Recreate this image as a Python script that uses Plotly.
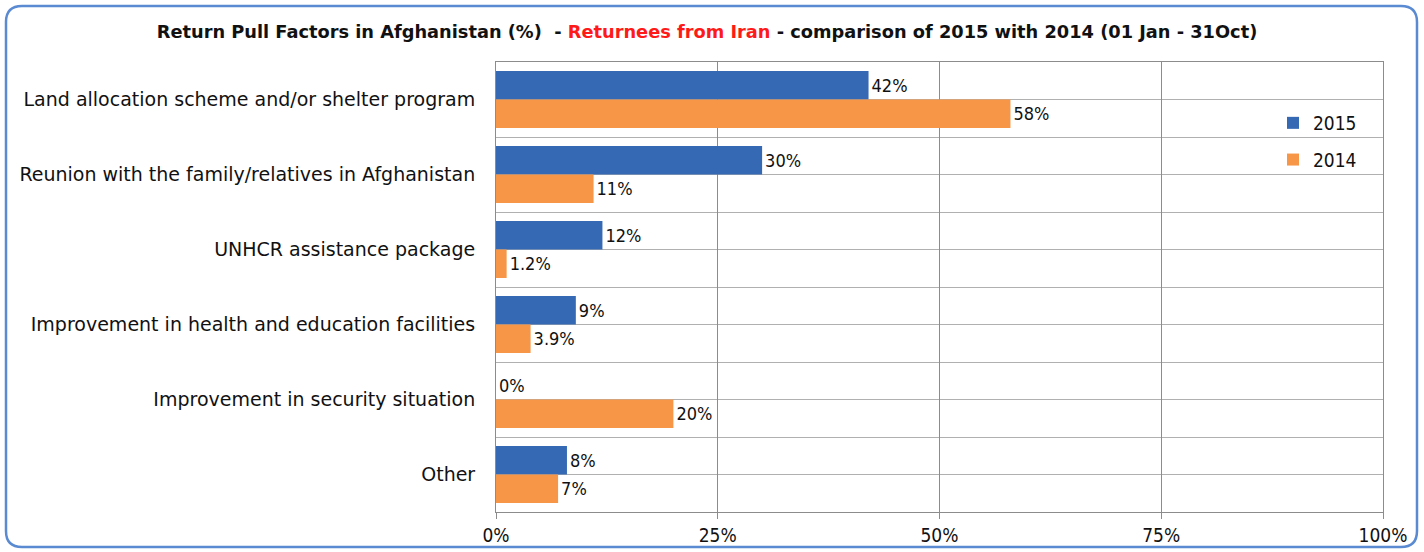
import plotly.graph_objects as go

categories = [
    "Land allocation scheme and/or shelter program",
    "Reunion with the family/relatives in Afghanistan",
    "UNHCR assistance package",
    "Improvement in health and education facilities",
    "Improvement in security situation",
    "Other",
]
values_2015 = [42, 30, 12, 9, 0, 8]
values_2014 = [58, 11, 1.2, 3.9, 20, 7]
x_ticks = [0, 25, 50, 75, 100]
x_ticklabels = ["0%", "25%", "50%", "75%", "100%"]

W, H = 1424, 552
ML, MR, MT, MB = 496, 41, 62, 40
PW, PH = W - ML - MR, H - MT - MB

FONT = "DejaVu Sans"
CFONT = "DejaVu Sans Condensed"
ypos = list(range(len(categories)))

fig = go.Figure()
fig.add_trace(go.Bar(
    y=ypos, x=values_2015, orientation="h", name="2015", legendgroup="a",
    marker=dict(color="#3569B3", line=dict(width=0)),
    text=[f"{v:g}%" for v in values_2015], textposition="outside",
    textfont=dict(family=CFONT, size=18, color="#111"), cliponaxis=False,
))
fig.add_trace(go.Bar(
    y=ypos, x=values_2014, orientation="h", name="2014", legendgroup="b",
    marker=dict(color="#F79646", line=dict(width=0)),
    text=[f"{v:g}%" for v in values_2014], textposition="outside",
    textfont=dict(family=CFONT, size=18, color="#111"), cliponaxis=False,
))

def px2paper(x, y):
    return (x - ML) / PW, (H - MB - y) / PH

# rounded border around whole chart
x0, y0, x1, y1, r = 6, 6, 1417, 547, 16
def P(x, y):
    a, b = px2paper(x, y)
    return f"{a:.5f},{b:.5f}"
path = (f"M {P(x0 + r, y0)} L {P(x1 - r, y0)} Q {P(x1, y0)} {P(x1, y0 + r)} "
        f"L {P(x1, y1 - r)} Q {P(x1, y1)} {P(x1 - r, y1)} L {P(x0 + r, y1)} "
        f"Q {P(x0, y1)} {P(x0, y1 - r)} L {P(x0, y0 + r)} Q {P(x0, y0)} {P(x0 + r, y0)} Z")
fig.add_shape(type="path", xref="paper", yref="paper", path=path,
              line=dict(color="#5A8AD2", width=2.5), layer="above")

fig.update_layout(
    width=W, height=H,
    margin=dict(l=ML, r=MR, t=MT, b=MB, autoexpand=False),
    paper_bgcolor="white", plot_bgcolor="white",
    font=dict(family=FONT, size=18, color="#111"),
    title=dict(
        text="<b>Return Pull Factors in Afghanistan (%)  - <span style='color:#FF1A1A'>Returnees from Iran</span> - comparison of 2015 with 2014 (01 Jan - 31Oct)</b>",
        x=707 / W, xanchor="center", y=1 - 32 / H, yanchor="middle",
        font=dict(family=FONT, size=17.8, color="#111"),
    ),
    barmode="group", bargap=0.24, bargroupgap=0,
    showlegend=True,
    legend=dict(x=(1273 - ML) / PW, y=(H - MB - 104) / PH, xanchor="left", yanchor="top",
                bgcolor="rgba(0,0,0,0)", font=dict(family=CFONT, size=19),
                itemwidth=30, tracegroupgap=9),
    xaxis=dict(range=[0, 100], tickvals=x_ticks, ticktext=x_ticklabels,
               showgrid=True, gridcolor="#8C8C8C", gridwidth=1,
               showline=True, linecolor="#8C8C8C", mirror=True,
               ticks="outside", ticklen=6, tickcolor="#8C8C8C", automargin=False,
               tickfont=dict(family=CFONT, size=19), zeroline=False),
    yaxis=dict(tickvals=ypos, ticktext=categories, range=[len(categories) - 0.5, -0.5],
               showgrid=False, showline=True, linecolor="#8C8C8C", mirror=True,
               minor=dict(dtick=0.5, tick0=-0.5, showgrid=True, gridcolor="#B0B0B0", gridwidth=1),
               ticks="", ticklabelstandoff=16, automargin=False,
               tickfont=dict(family=FONT, size=19), zeroline=False),
)

fig.write_html("out.html", config={"displayModeBar": False},
               post_script="document.body.style.margin='0';")
